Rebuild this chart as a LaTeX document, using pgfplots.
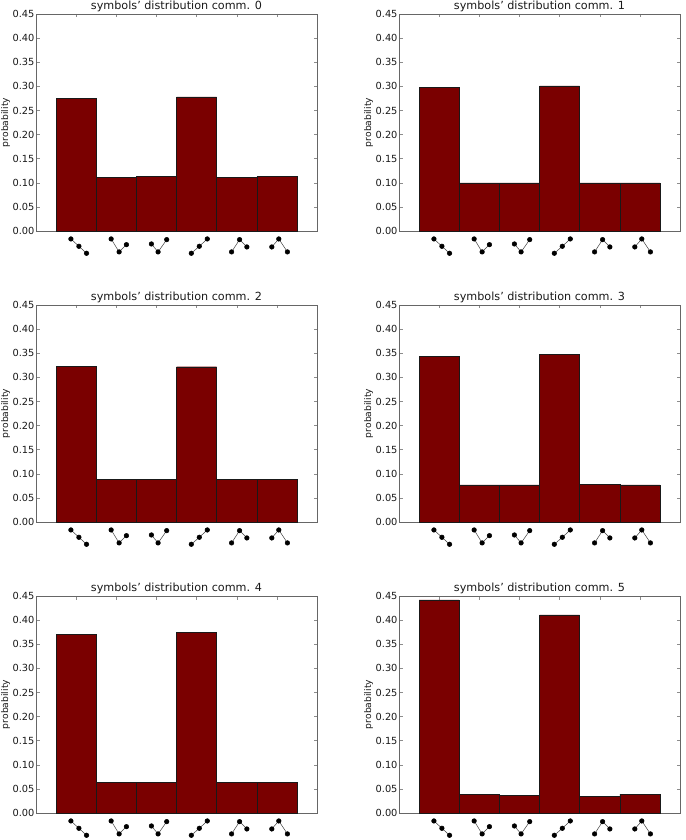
\documentclass[border=0pt]{standalone}
\usepackage{fontspec}
\setmainfont{DejaVu Sans}
\usepackage{pgfplots}
\pgfplotsset{compat=1.18}
\definecolor{barred}{HTML}{7A0000}
\definecolor{framegray}{HTML}{666666}
\pgfplotsset{
  every axis title shift=0pt,
  commaxis/.style={
    scale only axis, width=281pt, height=217pt,
    anchor=south west,
    xmin=-1, xmax=6, ymin=0, ymax=0.45,
    clip=false,
    axis line style={framegray, line width=0.9pt},
    tick style={black!45, line width=0.4pt},
    tick align=inside, major tick length=3.5pt,
    xtick={0,1,2,3,4,5}, xticklabels={},
    ytick={0,0.05,0.10,0.15,0.20,0.25,0.30,0.35,0.40,0.45},
    yticklabel style={/pgf/number format/fixed, /pgf/number format/fixed zerofill,
      /pgf/number format/precision=2, /pgf/number format/assume math mode=true,
      font=\fontsize{9.8}{11}\selectfont, text=black!90, xshift=2pt},
    ylabel=probability,
    ylabel style={font=\fontsize{9.2}{10}\selectfont, text=black!90, at={(axis description cs:-0.108,0.5)}, anchor=center},
    title style={font=\fontsize{11.2}{13}\selectfont, text=black!90, at={(axis description cs:0.5,1)}, anchor=south, yshift=-1.3pt},
  },
  symb/.style={black!75, line width=0.5pt, mark=*, mark size=2.3pt, mark options={fill=black, draw=black, solid}},
}
\newcommand{\glyphs}{%
  \addplot[symb] coordinates {(-0.130,-0.0165) (0.069,-0.0317) (0.259,-0.0462)};
  \addplot[symb] coordinates {(0.872,-0.0165) (1.071,-0.0434) (1.253,-0.0283)};
  \addplot[symb] coordinates {(1.875,-0.0269) (2.041,-0.0434) (2.256,-0.0179)};
  \addplot[symb] coordinates {(2.869,-0.0462) (3.068,-0.0317) (3.267,-0.0165)};
  \addplot[symb] coordinates {(3.872,-0.0434) (4.071,-0.0179) (4.253,-0.0331)};
  \addplot[symb] coordinates {(4.874,-0.0331) (5.048,-0.0165) (5.263,-0.0434)};
}
\newcommand{\commpanel}[4]{%
  \begin{axis}[commaxis, at={(#1pt,#2pt)}, title={symbols\symbol{39} distribution comm. #3}]
    \addplot[ybar, bar width=1, bar shift=0pt, fill=barred, draw=black!90, line width=0.4pt] coordinates {#4};
    \glyphs
  \end{axis}%
}
\begin{document}
\begin{tikzpicture}
  \path[use as bounding box] (0pt,0pt) rectangle (685pt,840pt);
  \commpanel{36}{609}{0}{(0,0.275) (1,0.111) (2,0.113) (3,0.278) (4,0.111) (5,0.113)}
  \commpanel{399}{609}{1}{(0,0.298) (1,0.100) (2,0.100) (3,0.301) (4,0.100) (5,0.100)}
  \commpanel{36}{318}{2}{(0,0.323) (1,0.088) (2,0.088) (3,0.322) (4,0.088) (5,0.088)}
  \commpanel{399}{318}{3}{(0,0.344) (1,0.077) (2,0.077) (3,0.347) (4,0.078) (5,0.077)}
  \commpanel{36}{27}{4}{(0,0.370) (1,0.064) (2,0.063) (3,0.375) (4,0.063) (5,0.064)}
  \commpanel{399}{27}{5}{(0,0.442) (1,0.039) (2,0.036) (3,0.411) (4,0.035) (5,0.039)}
\end{tikzpicture}
\end{document}
